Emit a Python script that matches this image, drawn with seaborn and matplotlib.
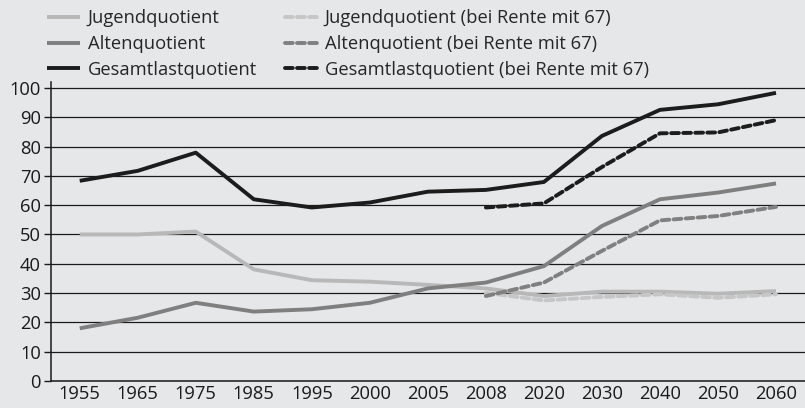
import numpy as np
import pandas as pd
import seaborn as sns
import matplotlib.pyplot as plt

# values
years = ['1955', '1965', '1975', '1985', '1995', '2000', '2005', '2008',
         '2020', '2030', '2040', '2050', '2060']
jugend = [50.0, 50.0, 51.0, 38.1, 34.4, 33.9, 32.8, 31.6, 29.0, 30.5, 30.5, 29.8, 30.7]
alten = [18.0, 21.6, 26.7, 23.7, 24.5, 26.7, 31.6, 33.6, 39.2, 52.9, 62.0, 64.3, 67.4]
gesamt = [68.3, 71.7, 77.9, 62.0, 59.2, 60.9, 64.6, 65.2, 67.9, 83.6, 92.5, 94.4, 98.3]

years_67 = ['2008', '2020', '2030', '2040', '2050', '2060']
jugend_67 = [30.1, 27.5, 28.7, 29.6, 28.4, 29.6]
alten_67 = [29.0, 33.6, 44.4, 54.8, 56.3, 59.4]
gesamt_67 = [59.2, 60.6, 73.0, 84.5, 84.8, 89.0]

bg = '#e6e7e9'
sns.set_style('white', {'axes.facecolor': bg, 'figure.facecolor': bg})
plt.rcParams['font.family'] = ['Open Sans', 'DejaVu Sans']

pos = {y: i for i, y in enumerate(years)}
x_all = [pos[y] for y in years]
x_67 = [pos[y] for y in years_67]

fig = plt.figure(figsize=(8.05, 4.08), dpi=100)
ax = fig.add_axes([0.063, 0.066, 0.937, 0.733])

dash = (0, (2.0, 1.1))
series = [
    ('Jugendquotient', x_all, jugend, '#b8b8b8', '-'),
    ('Altenquotient', x_all, alten, '#7f7f7f', '-'),
    ('Gesamtlastquotient', x_all, gesamt, '#1c1c1c', '-'),
    ('Jugendquotient (bei Rente mit 67)', x_67, jugend_67, '#c6c6c6', dash),
    ('Altenquotient (bei Rente mit 67)', x_67, alten_67, '#808080', dash),
    ('Gesamtlastquotient (bei Rente mit 67)', x_67, gesamt_67, '#1c1c1c', dash),
]
for label, xs, ys, color, ls in series:
    sns.lineplot(x=xs, y=ys, ax=ax, color=color, linewidth=2.8, linestyle=ls,
                 label=label, solid_capstyle='butt', dash_capstyle='round')

ax.set_xlim(-0.5, 12.5)
ax.set_ylim(0, 102)
ax.set_yticks(range(0, 101, 10))
ax.set_xticks(range(len(years)))
ax.set_xticklabels(years)
ax.set_xticks(np.arange(-0.5, len(years), 1.0), minor=True)
ax.tick_params(axis='x', which='major', length=0, labelsize=13.2, pad=3, colors='#1a1a1a')
ax.tick_params(axis='x', which='minor', length=6, width=1, direction='out', color='#1a1a1a')
ax.tick_params(axis='y', length=5, width=1, direction='out', labelsize=13.2, pad=2,
               colors='#1a1a1a', left=True)

ax.grid(axis='y', color='#1a1a1a', linewidth=0.9)
ax.set_axisbelow(True)
for side in ['top', 'right']:
    ax.spines[side].set_visible(False)
for side in ['left', 'bottom']:
    ax.spines[side].set_color('#1a1a1a')
    ax.spines[side].set_linewidth(1.1)

ax.legend(loc='upper left', bbox_to_anchor=(0.059, 0.977), bbox_transform=fig.transFigure,
          ncol=2, frameon=False, fontsize=13.2, handlelength=1.8, handletextpad=0.4,
          columnspacing=1.5, labelspacing=0.42, borderaxespad=0, borderpad=0)

fig.savefig('out.png', dpi=100, facecolor=bg)
